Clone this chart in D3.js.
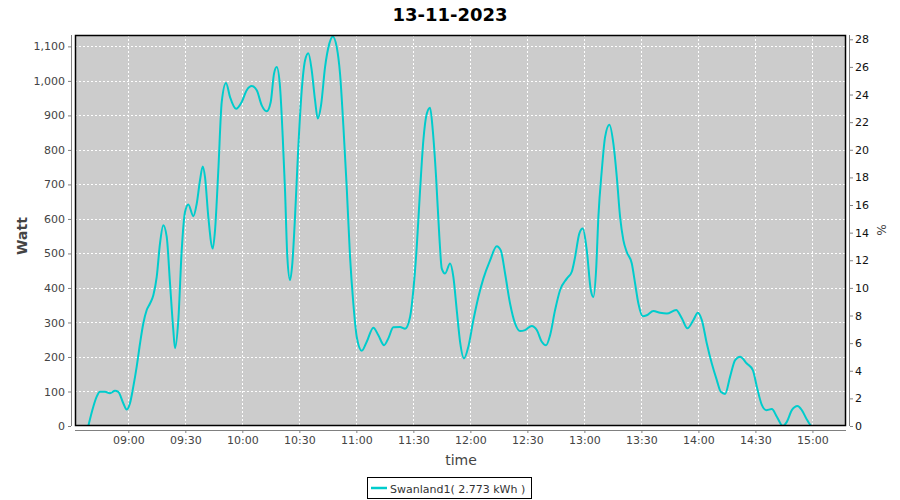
<!DOCTYPE html>
<html>
<head>
<meta charset="utf-8">
<script src="https://cdn.jsdelivr.net/npm/d3@7"></script>
<style>
  html, body { margin: 0; padding: 0; background: #ffffff; }
  svg { display: block; font-family: "DejaVu Sans", sans-serif; }
</style>
</head>
<body>
<svg id="chart" width="900" height="500"></svg>
<script>
// ---- data ----
const chartTitle = "13-11-2023";
const seriesName = "Swanland1( 2.773 kWh )";
const times = [
  "08:38:57","08:41:35","08:43:22","08:45:07","08:47:44","08:50:22","08:53:00","08:54:44","08:57:22","08:59:10",
  "09:00:53","09:02:38","09:04:25","09:06:10","09:07:53","09:09:41","09:11:25","09:13:10","09:14:57","09:16:41",
  "09:18:25","09:20:13","09:21:57","09:23:41","09:24:35","09:26:19","09:28:06","09:29:50","09:31:35","09:34:13",
  "09:36:00","09:37:44","09:39:10","09:40:22","09:42:06","09:44:25","09:45:38","09:47:22","09:49:10","09:51:25",
  "09:53:32","09:56:41","09:59:41","10:02:19","10:04:57","10:07:35","10:10:13","10:12:50","10:14:57","10:16:41",
  "10:18:06","10:19:50","10:21:16","10:22:28","10:23:41","10:25:06","10:26:19","10:27:44","10:29:28","10:31:16",
  "10:33:00","10:34:44","10:36:32","10:38:16","10:39:41","10:41:25","10:43:32","10:45:47","10:47:35","10:49:41",
  "10:51:25","10:53:10","10:54:57","10:56:41","10:58:25","11:00:13","11:02:50","11:05:28","11:08:57","11:11:35",
  "11:14:35","11:16:50","11:19:28","11:23:00","11:25:38","11:28:16","11:30:00","11:31:47","11:33:32","11:35:16",
  "11:37:03","11:38:47","11:40:13","11:41:57","11:43:41","11:44:57","11:46:41","11:49:19","11:51:03","11:52:50",
  "11:54:35","11:56:41","11:58:57","12:01:35","12:04:13","12:06:50","12:10:22","12:13:53","12:16:00","12:18:16",
  "12:20:53","12:23:32","12:26:10","12:28:47","12:32:19","12:34:57","12:37:35","12:39:50","12:41:57","12:44:35",
  "12:47:13","12:50:44","12:53:22","12:55:07","12:57:22","12:59:10","13:01:16","13:03:22","13:04:44","13:06:10",
  "13:07:22","13:09:10","13:10:53","13:13:10","13:15:16","13:17:03","13:18:47","13:20:32","13:22:19","13:24:57",
  "13:26:41","13:28:25","13:30:44","13:32:50","13:36:19","13:39:50","13:43:22","13:48:16","13:51:16","13:54:13",
  "13:57:22","13:59:41","14:01:47","14:04:25","14:07:03","14:09:41","14:11:47","14:14:03","14:16:41","14:19:19",
  "14:21:57","14:25:28","14:28:38","14:30:44","14:33:22","14:35:38","14:38:38","14:41:16","14:44:25","14:46:32",
  "14:49:10","14:52:07","14:54:25","14:57:03","14:59:41","15:09:18"
];
const watts = [
  0,56,85,99,99,95,102,99,66,48,
  66,114,172,239,297,336,355,379,432,529,
  582,548,413,278,225,307,509,620,642,608,
  644,712,752,721,606,514,567,741,939,994,
  953,919,939,973,985,973,929,912,939,1021,
  1040,983,837,683,490,423,471,606,809,973,
  1059,1080,1030,944,891,929,1040,1108,1129,1098,
  1021,870,690,490,355,258,218,244,285,263,
  234,254,286,287,282,316,394,519,683,828,
  905,922,857,722,548,456,442,471,432,336,
  244,196,230,307,374,427,480,521,509,442,
  355,297,275,278,290,278,244,234,263,336,
  394,427,447,490,558,572,509,394,374,452,
  606,741,837,873,818,722,606,538,504,471,
  413,355,318,321,333,328,326,336,312,283,
  307,328,307,239,181,133,99,93,143,191,
  201,181,162,114,61,46,49,27,0,12,
  46,58,46,19,0,0
];
const xTicks = ["09:00","09:30","10:00","10:30","11:00","11:30","12:00","12:30","13:00","13:30","14:00","14:30","15:00"];
const wattTicks = [0,100,200,300,400,500,600,700,800,900,1000,1100];
const pctTicks = [0,2,4,6,8,10,12,14,16,18,20,22,24,26,28];
const xDomain = ["08:31:57","15:17:40"];
const wattMax = 1133;
const pctMax = 28.31;

// ---- layout ----
const L = 75, R = 846, T = 35, B = 426;
const parseT = s => { const p = s.split(":").map(Number); return new Date(2023, 10, 13, p[0], p[1], p[2] || 0); };

const svg = d3.select("#chart");
const x = d3.scaleTime().domain(xDomain.map(parseT)).range([L, R]);
const y = d3.scaleLinear().domain([0, wattMax]).range([B, T]);
const y2 = d3.scaleLinear().domain([0, pctMax]).range([B, T]);

const data = times.map((t, i) => ({ t: parseT(t), v: watts[i] }));

// plot background
svg.append("rect").attr("x", L).attr("y", T).attr("width", R - L).attr("height", B - T).attr("fill", "#cccccc");

// gridlines
const grid = svg.append("g").attr("stroke", "#ffffff").attr("stroke-width", 1).attr("stroke-dasharray", "2,2");
grid.selectAll("line.v").data(xTicks).enter().append("line")
  .attr("x1", d => Math.round(x(parseT(d + ":00"))) + 0.5).attr("x2", d => Math.round(x(parseT(d + ":00"))) + 0.5)
  .attr("y1", T).attr("y2", B);
grid.selectAll("line.h").data(wattTicks.filter(d => d > 0)).enter().append("line")
  .attr("y1", d => Math.round(y(d)) + 0.5).attr("y2", d => Math.round(y(d)) + 0.5)
  .attr("x1", L).attr("x2", R);

// clip + line
svg.append("clipPath").attr("id", "clip").append("rect").attr("x", L).attr("y", T).attr("width", R - L).attr("height", B - T);
const line = d3.line().x(d => x(d.t)).y(d => y(d.v)).curve(d3.curveMonotoneX);
svg.append("path").datum(data).attr("clip-path", "url(#clip)")
  .attr("d", line).attr("fill", "none").attr("stroke", "#00cccc").attr("stroke-width", 2);

// plot border
svg.append("rect").attr("x", L + 0.5).attr("y", T + 0.5).attr("width", R - L - 1).attr("height", B - T - 1)
  .attr("fill", "none").attr("stroke", "#000000").attr("stroke-width", 1.5);

// axes
const axisColor = "#808080";
const fmt = d3.format(",");
const gL = svg.append("g").attr("transform", "translate(71,0)")
  .call(d3.axisLeft(y).tickValues(wattTicks).tickFormat(fmt).tickSize(3).tickPadding(3));
const gR = svg.append("g").attr("transform", "translate(850,0)")
  .call(d3.axisRight(y2).tickValues(pctTicks).tickSize(3).tickPadding(2));
const gB = svg.append("g").attr("transform", "translate(0,430)")
  .call(d3.axisBottom(x).tickValues(xTicks.map(d => parseT(d + ":00"))).tickFormat(d3.timeFormat("%H:%M")).tickSize(3).tickPadding(3));
[gL, gR, gB].forEach(g => {
  g.select(".domain").attr("stroke", axisColor).attr("d", null);
  g.selectAll(".tick line").attr("stroke", axisColor);
  g.selectAll("text").attr("font-family", "DejaVu Sans").attr("font-size", 11);
});
gL.select(".domain").remove();
gR.select(".domain").remove();
gB.select(".domain").remove();
svg.append("line").attr("x1", 71.5).attr("x2", 71.5).attr("y1", T).attr("y2", B).attr("stroke", axisColor);
svg.append("line").attr("x1", 849.5).attr("x2", 849.5).attr("y1", T).attr("y2", B).attr("stroke", axisColor);
svg.append("line").attr("x1", L).attr("x2", R).attr("y1", 430.5).attr("y2", 430.5).attr("stroke", axisColor);
gL.selectAll("text").attr("fill", "#444444");
gB.selectAll("text").attr("fill", "#444444");
gR.selectAll("text").attr("fill", "#111111");

// axis labels
svg.append("text").attr("transform", "translate(27,236) rotate(-90)").attr("text-anchor", "middle")
  .attr("font-size", 14).attr("font-weight", "bold").attr("fill", "#444444").text("Watt");
svg.append("text").attr("transform", "translate(877,230) rotate(90)").attr("text-anchor", "middle")
  .attr("font-size", 12).attr("fill", "#444444").text("%");
svg.append("text").attr("x", 461).attr("y", 465).attr("text-anchor", "middle")
  .attr("font-size", 14).attr("fill", "#444444").text("time");

// title
svg.append("text").attr("x", 450).attr("y", 21).attr("text-anchor", "middle")
  .attr("font-size", 18).attr("font-weight", "bold").attr("fill", "#000000").text(chartTitle);

// legend
const lg = svg.append("g");
lg.append("rect").attr("x", 367.5).attr("y", 477.5).attr("width", 164).attr("height", 21)
  .attr("fill", "#ffffff").attr("stroke", "#000000").attr("stroke-width", 1);
lg.append("line").attr("x1", 371).attr("x2", 387).attr("y1", 488).attr("y2", 488)
  .attr("stroke", "#00cccc").attr("stroke-width", 2.5);
lg.append("text").attr("x", 390).attr("y", 492.5).attr("font-size", 11).attr("fill", "#333333").text(seriesName);
</script>
</body>
</html>
